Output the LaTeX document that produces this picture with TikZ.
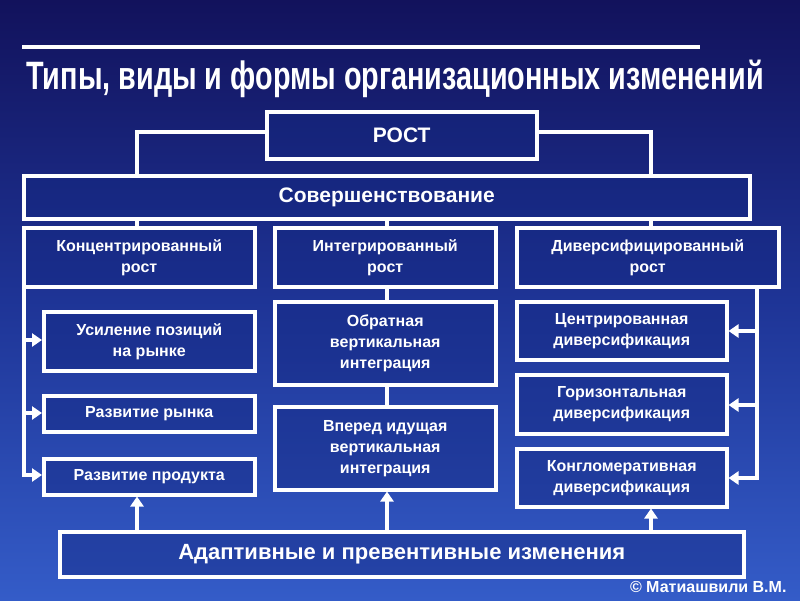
\documentclass[tikz,border=0pt]{standalone}
\usepackage{fontspec}
\setmainfont{Liberation Sans}
\usetikzlibrary{arrows.meta}
\definecolor{bgtop}{RGB}{18,18,92}
\definecolor{bgmid}{RGB}{30,52,150}
\definecolor{bgbot}{RGB}{52,92,200}
\definecolor{boxfill}{RGB}{20,40,130}
\begin{document}
\begin{tikzpicture}[x=1pt,y=-1pt,
  box/.style={draw=white,line width=3.5pt,fill=boxfill,fill opacity=0.45,text opacity=1,text=white,font=\bfseries\fontsize{16}{21}\selectfont,align=center,inner sep=0pt,anchor=north west},
  ln/.style={draw=white,line width=3.5pt},
  ar/.style={ln,-{Triangle[width=13pt,length=10pt]}}]
\shade[top color=bgtop,bottom color=bgbot,middle color=bgmid] (0,0) rectangle (800,600);
\useasboundingbox (0,0) rectangle (800,600);
\draw[white,line width=3.5pt] (22,47) -- (700,47);
\node[text=white,font=\bfseries\fontsize{36}{40}\selectfont] (title) at (395,79) {\scalebox{0.80}[1.1]{Типы, виды и формы организационных изменений}};
\node[box,minimum width=270,minimum height=47,font=\bfseries\fontsize{21}{25}\selectfont] (rost) at (265,110) {РОСТ};
\node[box,minimum width=726,minimum height=43,font=\bfseries\fontsize{21}{25}\selectfont] (sov) at (22,174) {Совершенствование};
\node[box,minimum width=231,minimum height=59] (c1) at (22,226) {Концентрированный\\рост};
\node[box,minimum width=221,minimum height=59] (c2) at (273,226) {Интегрированный\\рост};
\node[box,minimum width=262,minimum height=59] (c3) at (515,226) {Диверсифицированный\\рост};
\node[box,minimum width=211,minimum height=59] (a1) at (42,310) {Усиление позиций\\на рынке};
\node[box,minimum width=211,minimum height=36] (a2) at (42,394) {Развитие рынка};
\node[box,minimum width=211,minimum height=36] (a3) at (42,457) {Развитие продукта};
\node[box,minimum width=221,minimum height=83] (b1) at (273,300) {Обратная\\вертикальная\\интеграция};
\node[box,minimum width=221,minimum height=83] (b2) at (273,405) {Вперед идущая\\вертикальная\\интеграция};
\node[box,minimum width=210,minimum height=58] (d1) at (515,300) {Центрированная\\диверсификация};
\node[box,minimum width=210,minimum height=59] (d2) at (515,373) {Горизонтальная\\диверсификация};
\node[box,minimum width=210,minimum height=58] (d3) at (515,447) {Конгломеративная\\диверсификация};
\node[box,minimum width=684,minimum height=45,font=\bfseries\fontsize{22}{26}\selectfont] (ad) at (58,530) {Адаптивные и превентивные изменения};
\node[text=white,font=\bfseries\fontsize{16}{19}\selectfont,anchor=east] (copy) at (790,587) {© Матиашвили В.М.};
% connectors
\draw[ln] (rost.west |- 0,132) -| (137,174);
\draw[ln] (rost.east |- 0,132) -| (651,174);
\draw[ln] (137,217) -- (137,226);
\draw[ln] (387,217) -- (387,226);
\draw[ln] (651,217) -- (651,226);
\coordinate (lt) at (24,285);
\coordinate (lb) at (24,475);
\draw[ln] (lt) -- (lb);
\draw[ar] (22.25,340) -- (a1.west |- 0,340);
\draw[ar] (22.25,413) -- (a2.west |- 0,413);
\draw[ar] (22.25,475) -- (a3.west |- lb);
\draw[ln] (c2.south -| 387,0) -- (b1.north -| 387,0);
\draw[ln] (b1.south -| 387,0) -- (b2.north -| 387,0);
\coordinate (rt) at (757,288);
\coordinate (rb) at (757,478);
\draw[ln] (rt) -- (rb);
\draw[ar] (758.75,331) -- (d1.east |- 0,331);
\draw[ar] (758.75,405) -- (d2.east |- 0,405);
\draw[ar] (758.75,478) -- (d3.east |- rb);
\draw[ar] (ad.north -| 137,0) -- (a3.south -| 137,0);
\draw[ar] (ad.north -| 387,0) -- (b2.south -| 387,0);
\draw[ar] (ad.north -| 651,0) -- (d3.south -| 651,0);
\end{tikzpicture}
\end{document}
